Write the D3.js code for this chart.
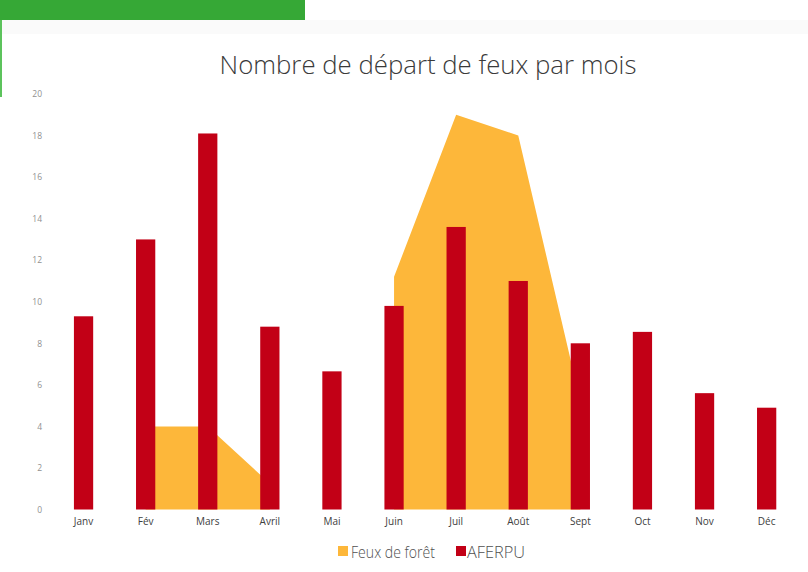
<!DOCTYPE html>
<html>
<head>
<meta charset="utf-8">
<script src="https://cdn.jsdelivr.net/npm/d3@7"></script>
<style>
  html, body { margin: 0; padding: 0; background: #ffffff; }
  svg { display: block; }
</style>
</head>
<body>
<svg id="chart" width="808" height="572"></svg>
<script>
const months = ["Janv", "Fév", "Mars", "Avril", "Mai", "Juin", "Juil", "Août", "Sept", "Oct", "Nov", "Déc"];
const aferpu = [9.3, 13, 18.1, 8.8, 6.65, 9.8, 13.6, 11, 8, 8.55, 5.6, 4.9];
const feuxForet = [null, 4, 4, 1.25, null, 11.2, 19, 18, 5.2, null, null, null];
const yTicks = [0, 2, 4, 6, 8, 10, 12, 14, 16, 18, 20];
const title = "Nombre de départ de feux par mois";
const seriesNames = ["Feux de forêt", "AFERPU"];
const colors = { feux: "#FDB73A", aferpu: "#C20016" };

const svg = d3.select("#chart");

// scan header decoration (green banner)
svg.append("rect").attr("x", 0).attr("y", 0).attr("width", 305).attr("height", 20).attr("fill", "#36a836");
svg.append("rect").attr("x", 0).attr("y", 20).attr("width", 2).attr("height", 77).attr("fill", "#5cc35c");
svg.append("rect").attr("x", 2).attr("y", 20).attr("width", 806).attr("height", 14).attr("fill", "#fafafa");

const x = d3.scaleBand().domain(months).range([52.5, 797.7]).paddingInner(0.69).paddingOuter(0.345);
const y = d3.scaleLinear().domain([0, 20]).range([509.5, 94]);

// title
const t = svg.append("text")
  .attr("x", 428).attr("y", 74)
  .attr("text-anchor", "middle")
  .attr("font-family", "'Open Sans', 'Noto Sans', sans-serif")
  .attr("font-weight", 300)
  .attr("font-size", 24)
  .attr("fill", "#3a3a3a")
  .text(title);
const w = t.node().getComputedTextLength();
t.attr("font-size", 24 * 417 / w);

// y axis labels
const yAxis = d3.axisLeft(y).tickValues(yTicks).tickSize(0).tickPadding(0);
const gy = svg.append("g").attr("transform", "translate(42,0)").call(yAxis);
gy.select(".domain").remove();
gy.selectAll("text")
  .attr("font-family", "'Open Sans', sans-serif")
  .attr("font-size", 8.5)
  .attr("fill", "#909090");

// area
const cx = d => x(d.m) + x.bandwidth() / 2;
const data = months.map((m, i) => ({ m, v: feuxForet[i] }));
const area = d3.area()
  .defined(d => d.v != null)
  .x(cx)
  .y0(y(0))
  .y1(d => y(d.v));
svg.append("path").datum(data).attr("d", area).attr("fill", colors.feux);

// bars
svg.append("g").selectAll("rect")
  .data(months.map((m, i) => ({ m, v: aferpu[i] })))
  .join("rect")
  .attr("x", d => x(d.m))
  .attr("width", x.bandwidth())
  .attr("y", d => y(d.v))
  .attr("height", d => y(0) - y(d.v))
  .attr("fill", colors.aferpu);

// x axis labels
const xAxis = d3.axisBottom(x).tickSize(0).tickPadding(0);
const gx = svg.append("g").attr("transform", "translate(0,518)").call(xAxis);
gx.select(".domain").remove();
gx.selectAll("text")
  .attr("font-family", "'Open Sans', sans-serif")
  .attr("font-size", 10)
  .attr("fill", "#404040");

// legend
const legend = svg.append("g").attr("font-family", "'Open Sans', sans-serif").attr("font-weight", 300).attr("font-size", 17).attr("fill", "#505050");
legend.append("rect").attr("x", 338).attr("y", 546).attr("width", 10).attr("height", 10).attr("fill", colors.feux);
const l1 = legend.append("text").attr("x", 351).attr("y", 558).text(seriesNames[0]);
l1.attr("textLength", 84).attr("lengthAdjust", "spacingAndGlyphs");
legend.append("rect").attr("x", 456).attr("y", 546).attr("width", 10).attr("height", 10).attr("fill", colors.aferpu);
const l2 = legend.append("text").attr("x", 467).attr("y", 558).text(seriesNames[1]);
l2.attr("textLength", 58).attr("lengthAdjust", "spacingAndGlyphs");
</script>
</body>
</html>
